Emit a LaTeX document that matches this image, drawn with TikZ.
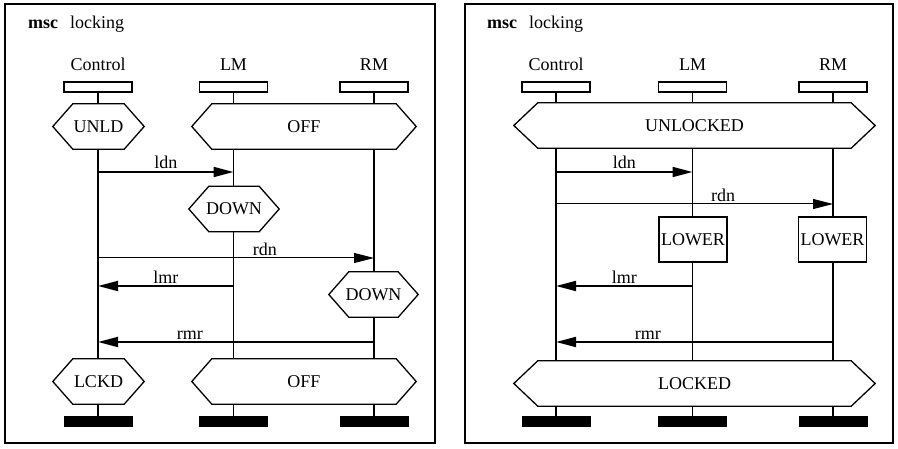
\documentclass[tikz,border=0pt]{standalone}
\usepackage{fontspec}
\setmainfont{Liberation Serif}
\usetikzlibrary{arrows.meta}
\newcommand{\instance}[3]{%
 \node[anchor=base] (#1n) at (#2,71) {#3};%
 \node[head] (#1h) at (#2,87) {};%
 \node[foot] (#1f) at (#2,421.5) {};%
}
\newcommand{\condition}[5]{%
 \node[cond, minimum width=#3] (#1) at (#2) {#5};%
 \draw[condline] (#1.west) -- ([xshift=#4]#1.north west) -- ([xshift=-#4]#1.north east)%
  -- (#1.east) -- ([xshift=-#4]#1.south east) -- ([xshift=#4]#1.south west) -- cycle;%
}

\begin{document}
\begin{tikzpicture}[x=1pt,y=-1pt,font=\fontsize{18}{22}\selectfont,
  frame/.style={line width=1.5pt},
  head/.style={draw,line width=1.3pt,minimum width=68pt,minimum height=10pt,inner sep=0pt},
  foot/.style={fill=black,minimum width=69pt,minimum height=11pt,inner sep=0pt},
  cond/.style={minimum height=45pt,inner sep=0pt},
  condline/.style={line width=1.3pt,line join=miter},
  box/.style={draw,line width=1.3pt,minimum width=68pt,minimum height=45pt,inner sep=0pt},
  life/.style={line width=1.2pt},
  msg/.style={line width=1.8pt,-{Triangle[length=20pt,width=10pt]}},
  thinmsg/.style={line width=1pt,-{Triangle[length=20pt,width=10pt]}},
  lbl/.style={above,inner sep=2pt}]
  \useasboundingbox (0,0) rectangle (898,449);

  % left chart
  \draw[frame] (5,4) rectangle (435,443);
  \node[anchor=base west,inner sep=0pt] (amsc) at (28,29) {\textbf{msc}\hspace{12pt}locking};
  \instance{aC}{98}{Control}
  \instance{aL}{233.5}{LM}
  \instance{aR}{374}{RM}
  \condition{aunld}{98.5,126.5}{91pt}{20pt}{UNLD}
  \condition{aoff}{304,126.5}{224pt}{20pt}{OFF}
  \condition{adownl}{234,209}{90pt}{20pt}{DOWN}
  \condition{adownr}{373.5,294.5}{89pt}{20pt}{DOWN}
  \condition{alckd}{98.5,381.5}{91pt}{20pt}{LCKD}
  \condition{aoff2}{304,381.5}{224pt}{20pt}{OFF}
  \draw[life] (aCh.south) -- (aCh |- aunld.north);
  \draw[life] (aCh |- aunld.south) -- (aCh |- alckd.north);
  \draw[life] (aCh |- alckd.south) -- (aCf.north);
  \draw[life] (aLh.south) -- (aLh |- aoff.north);
  \draw[life] (aLh |- aoff.south) -- (aLh |- adownl.north);
  \draw[life] (aLh |- adownl.south) -- (aLh |- aoff2.north);
  \draw[life] (aLh |- aoff2.south) -- (aLf.north);
  \draw[life] (aRh.south) -- (aRh |- aoff.north);
  \draw[life] (aRh |- aoff.south) -- (aRh |- adownr.north);
  \draw[life] (aRh |- adownr.south) -- (aRh |- aoff2.north);
  \draw[life] (aRh |- aoff2.south) -- (aRf.north);
  \coordinate (aldn) at (0,172);
  \coordinate (ardn) at (0,258);
  \coordinate (almr) at (0,286);
  \coordinate (armr) at (0,342);
  \draw[msg] (aCh |- aldn) -- node[lbl]{ldn} (aLh |- aldn);
  \draw[thinmsg] (aCh |- ardn) -- node[lbl,pos=.605]{rdn} (aRh |- ardn);
  \draw[msg] (aLh |- almr) -- node[lbl]{lmr} (aCh |- almr);
  \draw[msg] (aRh |- armr) -- node[lbl,pos=.667]{rmr} (aCh |- armr);

  % right chart
  \draw[frame] (465,4) rectangle (893,443);
  \node[anchor=base west,inner sep=0pt] (bmsc) at (487,29) {\textbf{msc}\hspace{12pt}locking};
  \instance{bC}{556}{Control}
  \instance{bL}{692.5}{LM}
  \instance{bR}{833}{RM}
  \condition{bunl}{694.5,125.5}{361pt}{24pt}{UNLOCKED}
  \condition{block}{694.5,383.5}{361pt}{24pt}{LOCKED}
  \node[box] (blowl) at (693,239.5) {LOWER};
  \node[box] (blowr) at (832.5,239.5) {LOWER};
  \draw[life] (bCh.south) -- (bCh |- bunl.north);
  \draw[life] (bCh |- bunl.south) -- (bCh |- block.north);
  \draw[life] (bCh |- block.south) -- (bCf.north);
  \draw[life] (bLh.south) -- (bLh |- bunl.north);
  \draw[life] (bLh |- bunl.south) -- (bLh |- blowl.north);
  \draw[life] (bLh |- blowl.south) -- (bLh |- block.north);
  \draw[life] (bLh |- block.south) -- (bLf.north);
  \draw[life] (bRh.south) -- (bRh |- bunl.north);
  \draw[life] (bRh |- bunl.south) -- (bRh |- blowr.north);
  \draw[life] (bRh |- blowr.south) -- (bRh |- block.north);
  \draw[life] (bRh |- block.south) -- (bRf.north);
  \coordinate (bldn) at (0,172);
  \coordinate (brdn) at (0,204);
  \coordinate (blmr) at (0,286);
  \coordinate (brmr) at (0,342);
  \draw[msg] (bCh |- bldn) -- node[lbl]{ldn} (bLh |- bldn);
  \draw[thinmsg] (bCh |- brdn) -- node[lbl,pos=.603]{rdn} (bRh |- brdn);
  \draw[msg] (bLh |- blmr) -- node[lbl]{lmr} (bCh |- blmr);
  \draw[msg] (bRh |- brmr) -- node[lbl,pos=.668]{rmr} (bCh |- brmr);
\end{tikzpicture}
\end{document}
